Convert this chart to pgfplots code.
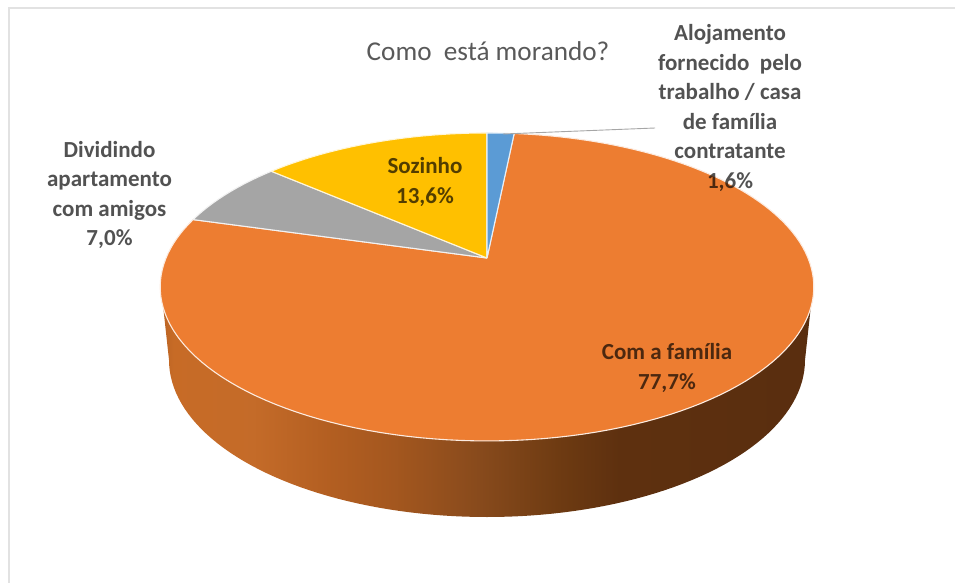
\documentclass[border=0pt]{standalone}
\usepackage{fontspec}
\usepackage{pgfplots}
\usepackage{pgfplotstable}
\pgfplotsset{compat=1.18}
\setmainfont{Carlito}

\definecolor{sliceBlue}{HTML}{5B9BD5}
\definecolor{sliceOrange}{HTML}{ED7D31}
\definecolor{sliceGray}{HTML}{A5A5A5}
\definecolor{sliceYellow}{HTML}{FFC000}
\definecolor{frameGray}{HTML}{E2E2E2}
\definecolor{titleGray}{HTML}{595959}

% Lit side of the disc, light on the left and dark brown on the right
\pgfdeclarehorizontalshading{discwall}{100bp}{
  rgb(0bp)=(0.73,0.39,0.14);
  rgb(25bp)=(0.73,0.39,0.14);
  rgb(26bp)=(0.78,0.42,0.15);
  rgb(32bp)=(0.77,0.42,0.16);
  rgb(38bp)=(0.70,0.37,0.13);
  rgb(43bp)=(0.64,0.34,0.12);
  rgb(49.5bp)=(0.53,0.29,0.11);
  rgb(55.6bp)=(0.43,0.23,0.07);
  rgb(60bp)=(0.37,0.19,0.06);
  rgb(75bp)=(0.35,0.18,0.06);
  rgb(100bp)=(0.35,0.18,0.06)}

% Share of each answer, in percent, clockwise from twelve o'clock
\pgfplotstableread[col sep=comma]{
answer,share
alojamento,1.6
familia,77.7
amigos,7.0
sozinho,13.6
}\moradia

\pgfplotstablegetelem{0}{share}\of\moradia \let\shareA\pgfplotsretval
\pgfplotstablegetelem{1}{share}\of\moradia \let\shareB\pgfplotsretval
\pgfplotstablegetelem{2}{share}\of\moradia \let\shareC\pgfplotsretval
\pgfplotstablegetelem{3}{share}\of\moradia \let\shareD\pgfplotsretval

% Point of the tilted disc top at angle #1 (degrees clockwise from the top)
\newcommand{\discpoint}[1]{%
  \pgfmathsetmacro{\den}{1+0.188*cos(#1)}%
  \pgfmathsetmacro{\px}{487+321*sin(#1)/\den}%
  \pgfmathsetmacro{\py}{287-(29+154*cos(#1))/\den}%
}

% Outline of one slice from angle #2 to #3, stored in macro #1
\newcommand{\buildslice}[3]{%
  \gdef\slicetmp{(487,258)}%
  \pgfmathsetmacro{\angfrom}{#2}%
  \pgfmathsetmacro{\angto}{#3}%
  \pgfmathtruncatemacro{\nseg}{ceil((\angto-\angfrom)/2)}%
  \foreach \i in {0,...,\nseg}{%
    \pgfmathsetmacro{\ang}{\angfrom+\i/\nseg*(\angto-\angfrom)}%
    \discpoint{\ang}%
    \xdef\slicetmp{\slicetmp (\px,\py)}%
  }%
  \xdef#1{\slicetmp (487,258)}%
}

\pgfmathsetmacro{\total}{\shareA+\shareB+\shareC+\shareD}
\pgfmathsetmacro{\angA}{\shareA/\total*360}
\pgfmathsetmacro{\angB}{\angA+\shareB/\total*360}
\pgfmathsetmacro{\angC}{\angB+\shareC/\total*360}

\buildslice{\sliceA}{0}{\angA}
\buildslice{\sliceB}{\angA}{\angB}
\buildslice{\sliceC}{\angB}{\angC}
\buildslice{\sliceD}{\angC}{360}

% Side wall: lower half of the base ellipse, closed behind the top face
\gdef\wallpath{(161,287)}
\foreach \i in {0,...,90}{%
  \pgfmathsetmacro{\ang}{180-2*\i}%
  \pgfmathsetmacro{\wx}{487+318*cos(\ang)}%
  \pgfmathsetmacro{\wy}{360+157*sin(\ang)}%
  \xdef\wallpath{\wallpath (\wx,\wy)}%
}
\xdef\wallpath{\wallpath (813,287) (161,287)}

\begin{document}
\begin{tikzpicture}
\useasboundingbox (0pt,0pt) rectangle (955pt,583pt);
\begin{axis}[
  scale only axis,
  width=955pt, height=583pt,
  xmin=0, xmax=955, ymin=0, ymax=583,
  y dir=reverse,
  hide axis,
  clip=false,
  anchor=south west,
  at={(0pt,0pt)},
]
  % Frame around the chart area
  \addplot[frameGray, line width=2pt] coordinates {(8.5,583) (8.5,8.5) (955,8.5)};

  \edef\drawwall{\noexpand\addplot[draw=none, shading=discwall, shading angle=0] coordinates {\wallpath};}
  \drawwall

  \edef\drawslices{%
    \noexpand\addplot[fill=sliceOrange, draw=white!85!sliceOrange, line width=1.1pt, line join=round] coordinates {\sliceB};
    \noexpand\addplot[fill=sliceGray, draw=white!85!sliceGray, line width=1.1pt, line join=round] coordinates {\sliceC};
    \noexpand\addplot[fill=sliceYellow, draw=white!85!sliceYellow, line width=1.1pt, line join=round] coordinates {\sliceD};
    \noexpand\addplot[fill=sliceBlue, draw=white!85!sliceBlue, line width=1.1pt, line join=round] coordinates {\sliceA};
  }
  \drawslices

  % Leader line for the smallest slice
  \addplot[color=black!35, line width=0.9pt] coordinates {(503,134) (655,128)};

  \node[text=titleGray, font=\fontsize{27.2}{32}\selectfont, inner sep=0pt] at (axis cs:488,51) {Como\ \ está morando?};

  \tikzset{pielabel/.style={text=black, text opacity=0.68, align=center, inner sep=0pt,
    font=\fontsize{23}{29.5}\selectfont\bfseries}}
  \node[pielabel] at (axis cs:730,108) {Alojamento\\fornecido\ \ pelo\\trabalho / casa\\de família\\contratante\\1,6\%};
  \node[pielabel] at (axis cs:109.5,195) {Dividindo\\apartamento\\com amigos\\7,0\%};
  \node[pielabel] at (axis cs:425,182) {Sozinho\\13,6\%};
  \node[pielabel] at (axis cs:667,368) {Com a família\\77,7\%};
\end{axis}
\end{tikzpicture}
\end{document}
